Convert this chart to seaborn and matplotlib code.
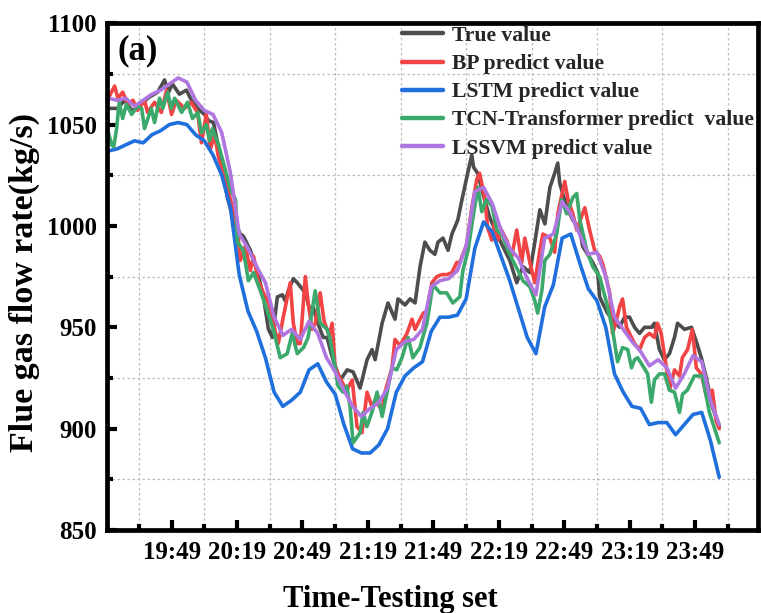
import numpy as np
import pandas as pd
import matplotlib
matplotlib.use("Agg")
import matplotlib.pyplot as plt
from matplotlib.lines import Line2D
from matplotlib.ticker import FixedLocator, MultipleLocator
import seaborn as sns

# Readings as (minutes after 19:20, flue gas flow in kg/s)
true_obs = [(0, 1058), (1.6, 1058), (4.3, 1058), (7.5, 1062), (10.7, 1057),
            (13.4, 1058), (18.0, 1063), (22.6, 1066), (25.8, 1072),
            (27.6, 1066), (29.4, 1070), (32.6, 1065), (35.8, 1067),
            (38.1, 1062), (40.9, 1058), (44.1, 1055), (45.9, 1052),
            (48.2, 1051), (51.4, 1034), (54.6, 1014), (57.3, 1003),
            (60.5, 996), (61.9, 995), (65.1, 988), (68.3, 978), (71.1, 965),
            (73.4, 949), (75.2, 945), (77.5, 965), (79.8, 966), (81.1, 963),
            (82.5, 968), (84.8, 974), (86.6, 972), (90.3, 967), (92.5, 958),
            (93.9, 960), (95.7, 953), (98.5, 945), (100.3, 945), (101.7, 939),
            (103.0, 934), (106.3, 924), (109.5, 929), (112.2, 928),
            (115.4, 920), (118.6, 934), (120.9, 939), (122.3, 934),
            (125.5, 952), (128.2, 962), (131.4, 954), (132.8, 964),
            (136.0, 961), (138.3, 964), (140.6, 962), (142.9, 980),
            (145.1, 992), (147.4, 988), (149.7, 986), (151.1, 992),
            (153.4, 994), (155.7, 988), (157.5, 996), (160.2, 1003),
            (162.1, 1013), (164.3, 1024), (166.6, 1035), (167.4, 1029),
            (169.3, 1026), (171.7, 1016), (174.9, 1004), (178.1, 996),
            (180.8, 990), (184.0, 983), (187.2, 972), (190.0, 980),
            (193.2, 977), (195.5, 992), (197.8, 1008), (200.1, 1001),
            (202.4, 1019), (204.6, 1026), (206.0, 1031), (206.9, 1021),
            (210.2, 1009), (212.9, 1003), (216.1, 998), (217.4, 990),
            (222.0, 982), (224.3, 977), (225.2, 965), (226.5, 962),
            (228.8, 957), (231.1, 954), (234.3, 950), (236.6, 955),
            (238.9, 955), (241.2, 950), (243.5, 947), (245.8, 950),
            (249.0, 950), (250.3, 952), (252.6, 939), (254.9, 934),
            (257.2, 937), (259.5, 945), (260.9, 952), (264.1, 949),
            (267.3, 950), (269.5, 943), (271.8, 935), (274.1, 925),
            (276.8, 911), (279.1, 904), (280.0, 901)]

bp_obs = [(0, 1063), (2.9, 1069), (4.4, 1063), (6.6, 1066), (9.0, 1060),
          (11.3, 1062), (13.4, 1057), (16.6, 1062), (18.0, 1056),
          (21.2, 1061), (24.3, 1056), (26.7, 1067), (29.0, 1055),
          (31.1, 1062), (34.9, 1058), (38.0, 1061), (40.9, 1056),
          (42.7, 1041), (44.9, 1055), (46.8, 1038), (48.7, 1045),
          (50.5, 1034), (52.8, 1026), (56.0, 1013), (59.2, 998), (60.5, 983),
          (62.8, 990), (65.1, 978), (66.6, 985), (68.7, 973), (71.1, 967),
          (73.5, 962), (75.6, 952), (77.9, 942), (80.2, 955), (83.4, 972),
          (84.8, 952), (86.6, 942), (88.0, 942), (90.3, 975), (91.6, 962),
          (93.4, 949), (94.9, 952), (97.1, 967), (98.9, 953), (101.2, 946),
          (102.6, 952), (104.0, 930), (105.3, 927), (107.6, 922),
          (109.3, 919), (111.8, 924), (114.0, 901), (116.3, 898),
          (118.6, 918), (120.8, 911), (122.3, 914), (125.5, 909),
          (126.8, 918), (130.0, 930), (131.4, 944), (133.7, 941),
          (136.9, 947), (139.2, 954), (140.6, 949), (142.9, 954),
          (144.4, 957), (146.0, 958), (148.3, 972), (150.6, 975),
          (152.9, 976), (155.2, 976), (157.5, 977), (159.7, 982),
          (161.1, 982), (164.3, 991), (166.6, 1009), (168.9, 1023),
          (170.2, 1026), (172.5, 1014), (173.9, 999), (175.8, 993),
          (177.1, 1003), (178.5, 993), (180.2, 998), (182.6, 993),
          (184.9, 985), (187.2, 998), (189.5, 982), (190.9, 994),
          (193.2, 982), (195.5, 972), (197.8, 988), (199.2, 996),
          (202.4, 994), (204.6, 987), (206.0, 1006), (209.2, 1022),
          (210.7, 1013), (212.9, 1006), (214.7, 998), (218.4, 1009),
          (220.6, 998), (222.9, 988), (225.2, 985), (226.7, 981),
          (229.8, 967), (231.1, 947), (232.8, 953), (234.3, 960),
          (235.7, 964), (237.5, 950), (238.9, 947), (241.2, 942),
          (243.5, 939), (245.8, 945), (248.0, 947), (250.3, 945),
          (251.7, 952), (253.4, 947), (255.8, 930), (257.2, 919),
          (259.5, 929), (261.8, 926), (263.1, 935), (265.5, 939),
          (267.7, 949), (269.5, 930), (271.8, 927), (274.1, 916),
          (276.8, 919), (278.6, 904), (280.0, 900)]

tcn_obs = [(0, 1046), (1.6, 1040), (2.5, 1039), (3.8, 1048), (5.0, 1061),
           (6.6, 1053), (8.3, 1060), (10.7, 1055), (13.4, 1059), (15.3, 1058),
           (16.6, 1048), (19.7, 1058), (21.2, 1051), (23.5, 1063),
           (25.0, 1058), (27.2, 1066), (28.9, 1058), (30.4, 1063),
           (33.6, 1056), (36.3, 1061), (38.6, 1053), (41.0, 1056),
           (42.7, 1046), (44.9, 1050), (46.4, 1042), (47.7, 1048),
           (50.5, 1040), (52.8, 1031), (56.0, 1018), (58.3, 1013),
           (59.2, 992), (61.9, 988), (64.2, 973), (66.6, 977), (69.7, 968),
           (72.9, 958), (75.6, 949), (78.8, 935), (82.0, 937), (84.3, 947),
           (86.6, 937), (89.5, 940), (91.6, 945), (94.8, 968), (97.1, 952),
           (100.3, 949), (101.7, 944), (103.2, 935), (105.3, 921),
           (107.6, 918), (109.3, 921), (110.8, 911), (112.2, 893),
           (115.4, 898), (116.8, 908), (118.5, 901), (120.8, 908),
           (123.2, 918), (125.5, 906), (127.8, 918), (130.0, 930),
           (132.2, 929), (134.6, 935), (137.4, 945), (139.6, 935),
           (142.8, 940), (146.0, 952), (148.8, 971), (152.0, 967),
           (155.1, 967), (157.9, 962), (161.1, 965), (162.5, 978),
           (164.9, 988), (167.1, 1004), (169.4, 1019), (171.2, 1007),
           (173.3, 1013), (175.8, 1010), (178.1, 998), (180.8, 995),
           (183.2, 988), (185.4, 983), (187.8, 978), (190.0, 973),
           (193.2, 970), (195.5, 963), (196.8, 957), (198.7, 968),
           (200.1, 983), (202.4, 986), (205.5, 996), (207.8, 1013),
           (210.1, 1006), (212.9, 1014), (214.7, 1016), (216.1, 1003),
           (219.3, 988), (222.0, 980), (225.2, 975), (228.4, 962),
           (231.1, 949), (233.4, 933), (235.7, 940), (238.1, 939),
           (239.8, 930), (241.2, 934), (242.6, 935), (245.0, 931),
           (247.2, 927), (248.9, 913), (250.3, 924), (252.6, 927),
           (254.9, 927), (257.2, 919), (259.5, 918), (261.8, 908),
           (263.2, 917), (265.4, 919), (268.6, 926), (272.3, 926),
           (275.5, 908), (280.0, 893)]

# Smoother model outputs, read every 4 minutes
grid_minutes = np.arange(0, 281, 4)
lstm_pred = [1037, 1038, 1040, 1042, 1041, 1045, 1047, 1050, 1051, 1050,
             1045, 1042, 1035, 1025, 1009, 976, 958, 948, 935, 918,
             911, 914, 918, 929, 932, 923, 917, 902, 890, 888,
             888, 892, 900, 918, 926, 930, 933, 948, 955, 955,
             956, 964, 989, 1002, 997, 985, 973, 959, 945, 937,
             960, 971, 994, 996, 982, 969, 963, 950, 927, 918,
             911, 910, 902, 903, 903, 897, 902, 907, 908, 894, 876]
lssvm_pred = [1063, 1062, 1063, 1059, 1062, 1065, 1067, 1070, 1073, 1071,
              1062, 1057, 1055, 1046, 1026, 996, 989, 980, 972, 955,
              946, 949, 944, 953, 947, 935, 928, 919, 911, 906,
              910, 913, 920, 939, 943, 944, 949, 970, 973, 974,
              978, 990, 1017, 1019, 1011, 998, 989, 984, 974, 966,
              994, 996, 1012, 1006, 996, 986, 987, 975, 955, 949,
              943, 938, 931, 934, 930, 920, 927, 936, 933, 914, 902]

series_names = ["True value", "BP predict value", "LSTM predict value",
                "TCN-Transformer predict  value", "LSSVM predict value"]
colors = ["#4d4d4d", "#f24444", "#1f6fdd", "#3aa96b", "#b076e0"]

tick_minutes = [29, 59, 89, 119, 149, 179, 209, 239, 269]
tick_labels = ["19:49", "20:19", "20:49", "21:19", "21:49",
               "22:19", "22:49", "23:19", "23:49"]
gridline_minutes = [14, 44, 74, 104, 134, 164, 194, 224, 254, 284]


def frame(name, minutes, values):
    return pd.DataFrame({"minute": minutes, "flow": values, "series": name})


df = pd.concat([
    frame(series_names[0], *zip(*true_obs)),
    frame(series_names[1], *zip(*bp_obs)),
    frame(series_names[2], grid_minutes, lstm_pred),
    frame(series_names[3], *zip(*tcn_obs)),
    frame(series_names[4], grid_minutes, lssvm_pred),
], ignore_index=True)

sns.set_theme(style="white")
plt.rcParams["font.family"] = ["Liberation Serif", "DejaVu Serif"]
plt.rcParams["font.weight"] = "bold"
plt.rcParams["axes.labelweight"] = "bold"

fig = plt.figure(figsize=(7.61, 6.13), dpi=100)
ax = fig.add_axes([0.1403, 0.1354, 0.8564, 0.8267])

sns.lineplot(data=df, x="minute", y="flow", hue="series",
             hue_order=series_names, palette=colors, linewidth=2.6,
             estimator=None, sort=True, legend=False, ax=ax)

ax.set_xlim(-0.7, 298)
ax.set_ylim(850, 1100)
ax.xaxis.set_major_locator(FixedLocator(tick_minutes))
ax.set_xticklabels(tick_labels)
ax.xaxis.set_minor_locator(FixedLocator(gridline_minutes))
ax.yaxis.set_major_locator(MultipleLocator(50))
ax.yaxis.set_minor_locator(MultipleLocator(25))

ax.tick_params(which="both", direction="in", top=False, right=False,
               bottom=True, left=True, color="black", width=3)
ax.tick_params(which="major", length=7)
ax.tick_params(which="minor", length=4)
ax.tick_params(axis="both", which="major", labelsize=18, labelcolor="black")
ax.tick_params(axis="y", which="major", pad=7)
ax.tick_params(axis="x", which="major", pad=8)

ax.grid(False)
ax.grid(which="minor", linestyle=(0, (2, 2)), color="#bdbdbd", linewidth=0.9)

for spine in ax.spines.values():
    spine.set_linewidth(3.4)
    spine.set_color("black")

ax.set_xlabel("Time-Testing set", fontsize=22, fontweight="bold",
              color="black")
ax.set_ylabel("Flue gas flow rate(kg/s)", fontsize=24.5, fontweight="bold",
              color="black")
ax.xaxis.set_label_coords(0.4346, -0.109, transform=ax.transAxes)
ax.yaxis.set_label_coords(-0.102, 0.489, transform=ax.transAxes)
ax.xaxis.label.set_va("top")

ax.text(0.016, 0.945, "(a)", transform=ax.transAxes, fontsize=25,
        fontweight="bold", va="center", ha="left", color="black")

handles = [Line2D([0], [0], color=c, linewidth=3.2) for c in colors]
ax.legend(handles, series_names, loc="upper left",
          bbox_to_anchor=(0.453, 0.995), frameon=False,
          prop={"size": 15.6, "weight": "bold"}, handlelength=1.9,
          handletextpad=0.42, labelspacing=0.37, borderpad=0,
          borderaxespad=0)

fig.savefig("out.png", dpi=100)
